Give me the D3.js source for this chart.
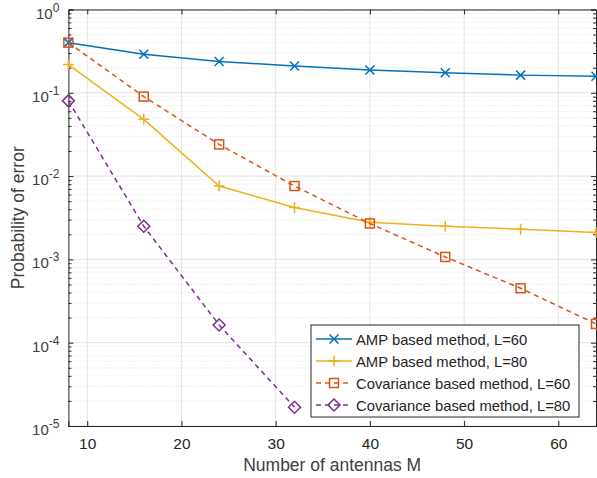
<!DOCTYPE html>
<html>
<head>
<meta charset="utf-8">
<script src="https://cdn.jsdelivr.net/npm/d3@7"></script>
<style>
  body { margin: 0; background: #fff; }
  text { font-family: "Liberation Sans", Arial, sans-serif; fill: #262626; }
</style>
</head>
<body>
<div id="chart"></div>
<script>
// data
const antennas = [8, 16, 24, 32, 40, 48, 56, 64]
const ampL60 = [0.40, 0.29, 0.238, 0.21, 0.188, 0.174, 0.163, 0.158]
const ampL80 = [0.218, 0.048, 0.0076, 0.0042, 0.0028, 0.0025, 0.0023, 0.0021]
const covL60 = [0.40, 0.090, 0.024, 0.0076, 0.0027, 0.00107, 0.00045, 0.000168]
const covL80 = [0.080, 0.0025, 0.000163, 0.0000168]
const seriesNames = [
  "AMP based method, L=60",
  "AMP based method, L=80",
  "Covariance based method, L=60",
  "Covariance based method, L=80"
]
const xTicks = [10, 20, 30, 40, 50, 60]
const yExps = [0, -1, -2, -3, -4, -5]

const svgWidth = 597
const svgHeight = 478
const margin = { top: 9.5, right: 1, bottom: 52, left: 68.4 }
const width = svgWidth - margin.left - margin.right
const height = svgHeight - margin.top - margin.bottom

const svg = d3.select("#chart").append("svg")
  .attr("width", svgWidth)
  .attr("height", svgHeight)

const g = svg.append("g")
  .attr("transform", `translate(${margin.left}, ${margin.top})`)

const x = d3.scaleLinear().domain([8, 64]).range([0, width])
const y = d3.scaleLog().domain([1e-5, 1]).range([height, 0])

// minor values for log grid
let minors = []
for (let e = -5; e < 0; e++) {
  for (let k = 2; k <= 9; k++) minors.push(k * Math.pow(10, e))
}

// grid
const grid = g.append("g")
grid.selectAll(".minor").data(minors).enter().append("line")
  .attr("x1", 0).attr("x2", width)
  .attr("y1", d => y(d)).attr("y2", d => y(d))
  .attr("stroke", "#d0d0d0").attr("stroke-width", 0.6)
  .attr("stroke-dasharray", "1,2")
grid.selectAll(".majy").data(yExps).enter().append("line")
  .attr("x1", 0).attr("x2", width)
  .attr("y1", d => y(Math.pow(10, d))).attr("y2", d => y(Math.pow(10, d)))
  .attr("stroke", "#e3e3e3").attr("stroke-width", 1)
grid.selectAll(".majx").data(xTicks).enter().append("line")
  .attr("x1", d => x(d)).attr("x2", d => x(d))
  .attr("y1", 0).attr("y2", height)
  .attr("stroke", "#e3e3e3").attr("stroke-width", 1)

// axes
const axisColor = "#262626"
const labelColor = "#404040"
const bottomAxis = d3.axisBottom(x).tickValues(xTicks).tickSize(-5).tickPadding(12)
const topAxis = d3.axisTop(x).tickValues(xTicks).tickSize(-5).tickFormat("")
const leftMajor = d3.axisLeft(y).tickValues(yExps.map(e => Math.pow(10, e))).tickSize(-5).tickFormat("")
const leftMinor = d3.axisLeft(y).tickValues(minors).tickSize(-3).tickFormat("")
const rightMajor = d3.axisRight(y).tickValues(yExps.map(e => Math.pow(10, e))).tickSize(-5).tickFormat("")
const rightMinor = d3.axisRight(y).tickValues(minors).tickSize(-3).tickFormat("")

function styleAxis(sel) {
  sel.selectAll("path").attr("stroke", axisColor).attr("stroke-width", 1)
  sel.selectAll("line").attr("stroke", axisColor).attr("stroke-width", 1)
  sel.selectAll("text").attr("font-size", 15.5).attr("fill", labelColor)
    .style("font-family", '"Liberation Sans", Arial, sans-serif')
}

g.append("g").attr("transform", `translate(0, ${height})`).call(bottomAxis).call(styleAxis)
g.append("g").call(topAxis).call(styleAxis)
g.append("g").call(leftMajor).call(styleAxis)
g.append("g").call(leftMinor).call(styleAxis).select("path").remove()
g.append("g").attr("transform", `translate(${width}, 0)`).call(rightMajor).call(styleAxis)
g.append("g").attr("transform", `translate(${width}, 0)`).call(rightMinor).call(styleAxis).select("path").remove()

// y tick labels as 10^k
const yLab = g.append("g")
yExps.forEach(e => {
  const t = yLab.append("text")
    .attr("x", -9)
    .attr("y", y(Math.pow(10, e)) + 9)
    .attr("text-anchor", "end")
    .attr("font-size", 15)
    .style("fill", labelColor)
  t.append("tspan").text("10")
  t.append("tspan").attr("dy", -7).attr("font-size", 12).text(e)
})

// axis titles
svg.append("text")
  .attr("x", margin.left + width / 2)
  .attr("y", 471)
  .attr("text-anchor", "middle")
  .attr("font-size", 17.5)
  .style("fill", labelColor)
  .text("Number of antennas M")
svg.append("text")
  .attr("transform", `translate(24, ${margin.top + height / 2}) rotate(-90)`)
  .attr("text-anchor", "middle")
  .attr("font-size", 17.5)
  .style("fill", labelColor)
  .text("Probability of error")

// series
const series = [
  { vals: ampL60, color: "#0072BD", dash: null, marker: "x" },
  { vals: ampL80, color: "#EDB120", dash: null, marker: "plus" },
  { vals: covL60, color: "#D95319", dash: "5,4", marker: "square" },
  { vals: covL80, color: "#7E2F8E", dash: "5,4", marker: "diamond" }
]

const line = d3.line().x(d => x(d[0])).y(d => y(d[1]))

function drawMarker(sel, type, color, cx, cy) {
  const s = 4.5
  if (type === "x") {
    sel.append("path").attr("d", `M${cx - s},${cy - s}L${cx + s},${cy + s}M${cx - s},${cy + s}L${cx + s},${cy - s}`)
      .attr("stroke", color).attr("stroke-width", 1.5).attr("fill", "none")
  } else if (type === "plus") {
    const p = 5.5
    sel.append("path").attr("d", `M${cx - p},${cy}L${cx + p},${cy}M${cx},${cy - p}L${cx},${cy + p}`)
      .attr("stroke", color).attr("stroke-width", 1.5).attr("fill", "none")
  } else if (type === "square") {
    sel.append("rect").attr("x", cx - 4.5).attr("y", cy - 4.5).attr("width", 9).attr("height", 9)
      .attr("stroke", color).attr("stroke-width", 1.5).attr("fill", "none")
  } else if (type === "diamond") {
    const d = 6
    sel.append("path").attr("d", `M${cx},${cy - d}L${cx + d},${cy}L${cx},${cy + d}L${cx - d},${cy}Z`)
      .attr("stroke", color).attr("stroke-width", 1.5).attr("fill", "none")
  }
}

const plotArea = g.append("g")
series.forEach(s => {
  const pts = s.vals.map((v, i) => [antennas[i], v])
  plotArea.append("path")
    .datum(pts)
    .attr("d", line)
    .attr("fill", "none")
    .attr("stroke", s.color)
    .attr("stroke-width", 1.5)
    .attr("stroke-dasharray", s.dash)
  pts.forEach(p => drawMarker(plotArea, s.marker, s.color, x(p[0]), y(p[1])))
})

// legend
const legend = svg.append("g").attr("transform", "translate(311, 325)")
legend.append("rect")
  .attr("width", 268).attr("height", 92)
  .attr("fill", "#fff").attr("stroke", axisColor).attr("stroke-width", 1)
series.forEach((s, i) => {
  const cy = 14 + i * 22
  legend.append("line")
    .attr("x1", 5).attr("x2", 41).attr("y1", cy).attr("y2", cy)
    .attr("stroke", s.color).attr("stroke-width", 1.5)
    .attr("stroke-dasharray", s.dash)
  drawMarker(legend, s.marker, s.color, 23, cy)
  legend.append("text")
    .attr("x", 45).attr("y", cy + 5.5)
    .attr("font-size", 14.8)
    .text(seriesNames[i])
})
</script>
</body>
</html>
